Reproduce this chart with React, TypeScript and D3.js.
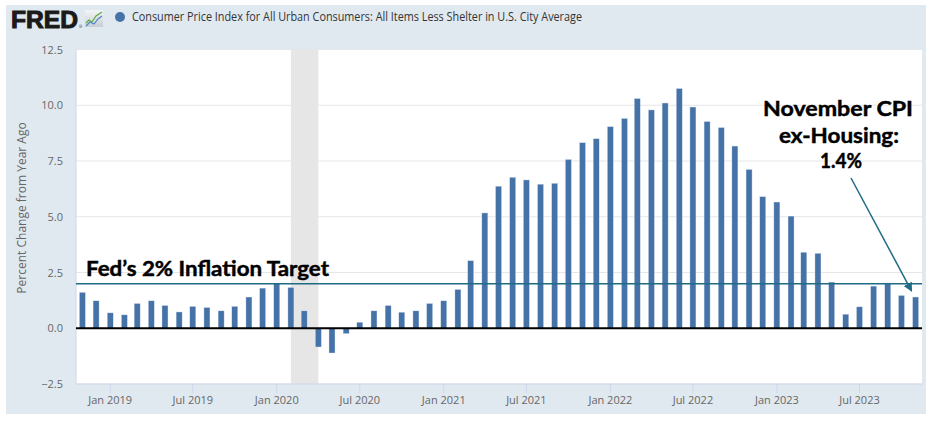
import React from 'react';
import * as d3 from 'd3';

// Monthly CPI less shelter, percent change from year ago, Nov 2018 - Nov 2023
const firstMonth = new Date(2018, 10, 1);
const cpiExShelter = [
  1.61, 1.23,
  0.69, 0.60, 1.11, 1.23, 1.02, 0.73, 0.98, 0.93, 0.78, 0.98, 1.40, 1.80,
  2.02, 1.83, 0.78, -0.84, -1.11, -0.24, 0.27, 0.78, 1.02, 0.72, 0.78, 1.11,
  1.23, 1.74, 3.03, 5.17, 6.37, 6.77, 6.65, 6.46, 6.50, 7.57, 8.32, 8.50,
  9.04, 9.41, 10.30, 9.79, 10.10, 10.75, 9.92, 9.27, 9.00, 8.17, 7.12, 5.90,
  5.66, 5.03, 3.41, 3.36, 2.07, 0.63, 0.96, 1.89, 2.03, 1.47, 1.40,
];
const yTicks = [-2.5, 0, 2.5, 5, 7.5, 10, 12.5];
const xTickDates = [
  new Date(2019, 0, 1), new Date(2019, 6, 1), new Date(2020, 0, 1), new Date(2020, 6, 1),
  new Date(2021, 0, 1), new Date(2021, 6, 1), new Date(2022, 0, 1), new Date(2022, 6, 1),
  new Date(2023, 0, 1), new Date(2023, 6, 1),
];
const recession = [new Date(2020, 1, 1), new Date(2020, 3, 1)];
const fedTarget = 2;
const latestLabel = ['November CPI', 'ex-Housing:', '1.4%'];

const W = 936;
const H = 424;
const plot = { left: 76, right: 922, top: 49.5, bottom: 384 };

const fredFont = '"Open Sans", "DejaVu Sans", sans-serif';
const noteFont = 'Lato, "Open Sans", sans-serif';
const teal = '#1f6b84';
const barColor = '#4572a7';

export default function App() {
  const dates = cpiExShelter.map((_, i) => d3.timeMonth.offset(firstMonth, i));
  const data = dates.map((date, i) => ({ date, value: cpiExShelter[i] }));

  const x = d3.scaleTime()
    .domain([new Date(2018, 9, 18), new Date(2023, 10, 15)])
    .range([plot.left, plot.right]);
  const y = d3.scaleLinear().domain([-2.5, 12.5]).range([plot.bottom, plot.top]);
  const fmt = d3.timeFormat('%b %Y');
  const barW = 6;

  const last = data[data.length - 1];
  const arrowEnd = { x: x(last.date) - 4, y: y(last.value) - 6 };

  const note = { fontFamily: noteFont, fontWeight: 700, fontSize: 21, fill: '#000', stroke: '#000', strokeWidth: 0.45 };

  return (
    <svg width={W} height={H} style={{ display: 'block', position: 'absolute', left: 0, top: 0, background: '#fff' }}>
      <defs>
        <marker id="arrowHead" viewBox="0 0 10 10" refX="9" refY="5" markerWidth="6" markerHeight="6" orient="auto">
          <path d="M0,0 L10,5 L0,10 z" fill={teal} />
        </marker>
        <linearGradient id="iconBg" x1="0" y1="0" x2="0" y2="1">
          <stop offset="0" stopColor="#f4f5f6" />
          <stop offset="1" stopColor="#c9ced3" />
        </linearGradient>
      </defs>
      <rect x={6} y={5} width={920} height={409} fill="#e1e9f0" />

      {/* header: logo + legend */}
      <text x={11} y={27.5} fontFamily='"Liberation Sans", Arial, sans-serif' fontWeight={900} fontSize={24}
        textLength={67} lengthAdjust="spacingAndGlyphs" fill="#1a1a1a" stroke="#1a1a1a" strokeWidth={1}>FRED</text>
      <text x={79} y={28} fontSize={4} fontFamily={fredFont} fill="#1a1a1a">®</text>
      <rect x={85} y={10} width={18} height={17} fill="url(#iconBg)" />
      <polyline points="86,23 89,20 92,22 96,16 102,12" fill="none" stroke="#5cae3c" strokeWidth={1.2} />
      <polyline points="86,26 90,22 94,24 98,19 102,16" fill="none" stroke="#4d86cc" strokeWidth={1.2} />
      <circle cx={120} cy={17} r={5} fill={barColor} />
      <text x={132} y={21} fontFamily={fredFont} fontSize={12} fill="#333" textLength={450} lengthAdjust="spacingAndGlyphs">
        Consumer Price Index for All Urban Consumers: All Items Less Shelter in U.S. City Average
      </text>

      {/* plot area */}
      <rect x={plot.left} y={plot.top} width={plot.right - plot.left} height={plot.bottom - plot.top} fill="#fff" />
      <rect x={x(recession[0])} y={plot.top} width={x(recession[1]) - x(recession[0])}
        height={plot.bottom - plot.top} fill="#e6e6e6" />
      {yTicks.map(t => (
        <g key={t}>
          <line x1={plot.left} x2={plot.right} y1={y(t)} y2={y(t)} stroke="#e6e6e6" strokeWidth={1} />
          <text x={63} y={y(t) + 4} textAnchor="end" fontFamily={fredFont} fontSize={11} fill="#666">
            {d3.format('.1f')(t)}
          </text>
        </g>
      ))}
      <line x1={plot.left} x2={plot.left} y1={plot.top} y2={plot.bottom} stroke="#ccd6eb" />
      <line x1={plot.left} x2={plot.right} y1={plot.bottom} y2={plot.bottom} stroke="#ccd6eb" />
      {xTickDates.map(d => (
        <g key={+d}>
          <line x1={x(d)} x2={x(d)} y1={plot.bottom} y2={plot.bottom + 9} stroke="#ccd6eb" />
          <text x={x(d)} y={404} textAnchor="middle" fontFamily={fredFont} fontSize={11} fill="#666">{fmt(d)}</text>
        </g>
      ))}
      <text transform={`translate(26,208) rotate(-90)`} textAnchor="middle" fontFamily={fredFont} fontSize={12} fill="#666">
        Percent Change from Year Ago
      </text>

      {/* bars */}
      {data.map(d => (
        <rect key={+d.date} x={x(d.date) - barW / 2} y={y(Math.max(0, d.value))} width={barW}
          height={Math.abs(y(d.value) - y(0))} fill={barColor} stroke="#dbe4f0" strokeWidth={0.4} />
      ))}

      {/* reference lines */}
      <line x1={plot.left} x2={plot.right} y1={y(0)} y2={y(0)} stroke="#000" strokeWidth={2} />
      <line x1={plot.left} x2={plot.right} y1={y(fedTarget)} y2={y(fedTarget)} stroke={teal} strokeWidth={1.5} />
      <text x={86} y={276} {...note} textLength={243} lengthAdjust="spacingAndGlyphs">Fed’s 2% Inflation Target</text>

      {/* latest reading callout */}
      <text x={838} y={116} textAnchor="middle" {...note} textLength={150} lengthAdjust="spacingAndGlyphs">{latestLabel[0]}</text>
      <text x={839} y={142.5} textAnchor="middle" {...note} textLength={120} lengthAdjust="spacingAndGlyphs">{latestLabel[1]}</text>
      <text x={841} y={167.5} textAnchor="middle" {...note} textLength={42} lengthAdjust="spacingAndGlyphs">{latestLabel[2]}</text>
      <line x1={851} y1={178} x2={arrowEnd.x} y2={arrowEnd.y} stroke={teal} strokeWidth={1.5} markerEnd="url(#arrowHead)" />
    </svg>
  );
}
